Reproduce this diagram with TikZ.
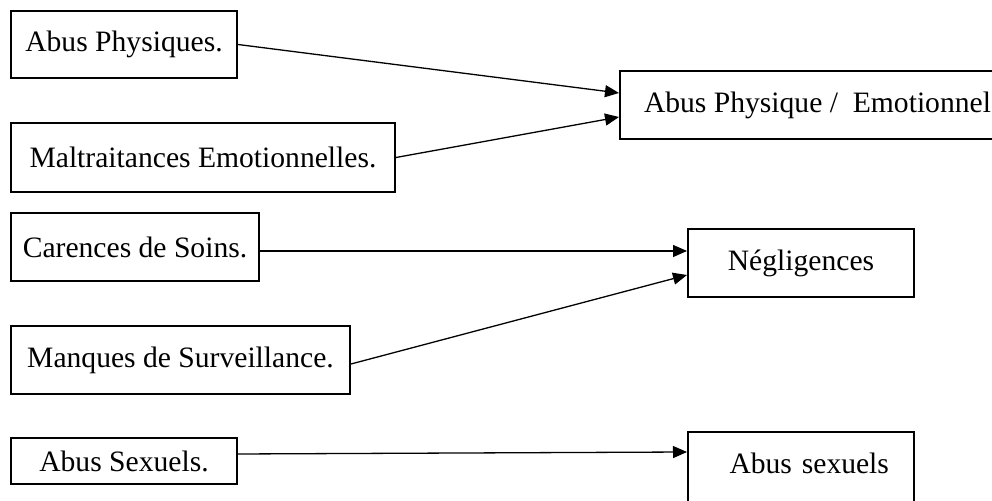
\documentclass[tikz,border=0pt]{standalone}
\usepackage{fontspec}
\setmainfont{Liberation Serif}
\usetikzlibrary{arrows.meta,positioning}

\begin{document}
\begin{tikzpicture}[x=0.5pt,y=-0.5pt,
	box/.style={draw,line width=1pt,rectangle,anchor=north west,inner sep=0pt,font=\fontsize{14.8}{18}\selectfont},
	link/.style={line width=0.65pt,-{Triangle[length=7pt,width=6pt]}}]
\useasboundingbox (0,0) rectangle (992,501);
\clip (0,0) rectangle (992,501);

\node[box,minimum width=113pt,minimum height=33.5pt] at (10,10)	(ap) {Abus Physiques.};
\node[box,minimum width=192pt,minimum height=34.5pt] at (10,122)	(me) {Maltraitances Emotionnelles.};
\node[box,minimum width=124pt,minimum height=34pt] at (10,212)	(cs) {Carences de Soins.};
\node[box,minimum width=169.5pt,minimum height=34pt] at (10,325)	(ms) {Manques de Surveillance.};
\node[box,minimum width=113pt,minimum height=23pt] at (10,437)	(as) {Abus Sexuels.};

\node[box,inner xsep=12pt,minimum height=34pt] at (619,70)	(ape) {Abus Physique /\ \ Emotionnel};
\node[box,minimum width=113pt,minimum height=34pt] at (687,228)	(neg) {Négligences};
\node[box,inner xsep=12.5pt,inner ysep=10.5pt,text width=88pt,align=right,text depth=25pt] at (687,431)	(asx) {Abus sexuels};

\draw[link] (ap.east) -- ([yshift=6pt]ape.west);
\draw[link] (me.east) -- ([yshift=-6pt]ape.west);
\draw[link] ([yshift=-2pt]cs.east) -- ([yshift=6pt]neg.west);
\draw[link] ([yshift=-2pt]ms.east) -- ([yshift=-6pt]neg.west);
\draw[link] ([yshift=3.5pt]as.east) -- ([yshift=-10.5pt]asx.north west);
\end{tikzpicture}
\end{document}
